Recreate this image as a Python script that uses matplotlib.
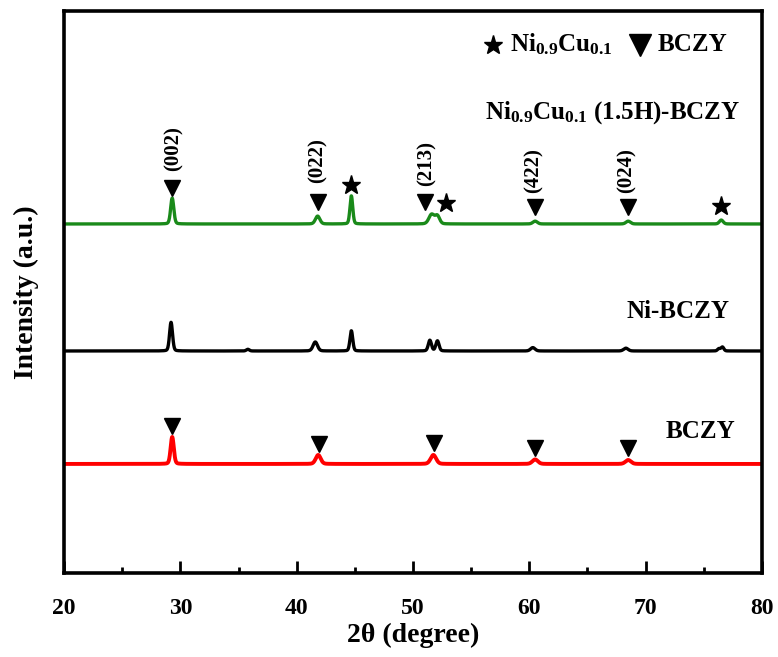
import numpy as np
import matplotlib
matplotlib.use("Agg")
import matplotlib.pyplot as plt

plt.rcParams['font.family'] = ['Liberation Serif', 'DejaVu Sans']
plt.rcParams['font.weight'] = 'bold'
plt.rcParams['mathtext.fontset'] = 'custom'
plt.rcParams['mathtext.rm'] = 'Liberation Serif:bold'
plt.rcParams['mathtext.bf'] = 'Liberation Serif:bold'
plt.rcParams['mathtext.it'] = 'Liberation Serif:bold:italic'

# ---- data ----
# baselines (arbitrary intensity units, offset stacking)
base_nicu = 62.1
base_ni = 39.5
base_bczy = 19.4

# peaks: position (2theta), height, FWHM
nicu_pos = [29.3, 41.8, 44.7, 51.6, 52.1, 60.5, 68.5, 76.5]
nicu_hgt = [4.6, 1.4, 5.0, 1.7, 1.4, 0.5, 0.5, 0.7]
nicu_wid = [0.32, 0.45, 0.28, 0.55, 0.45, 0.45, 0.45, 0.38]

ni_pos = [29.2, 35.8, 41.6, 44.7, 51.45, 52.1, 60.3, 68.3, 76.3, 76.6]
ni_hgt = [5.1, 0.3, 1.6, 3.6, 1.9, 1.8, 0.6, 0.5, 0.4, 0.7]
ni_wid = [0.30, 0.30, 0.45, 0.28, 0.32, 0.32, 0.45, 0.45, 0.28, 0.28]

bczy_pos = [29.3, 41.85, 51.75, 60.5, 68.5]
bczy_hgt = [4.8, 1.6, 1.6, 0.8, 0.7]
bczy_wid = [0.32, 0.50, 0.55, 0.55, 0.55]

# annotation markers
tri_nicu_x = [29.3, 41.8, 51.0, 60.5, 68.5]
tri_nicu_y = [68.5, 66.0, 66.0, 65.1, 65.1]
star_nicu_x = [44.7, 52.8, 76.5]
star_nicu_y = [69.0, 65.8, 65.3]
hkl_labels = ['(002)', '(022)', '(213)', '(422)', '(024)']
hkl_x = [29.4, 41.8, 51.2, 60.4, 68.4]
hkl_y = [75.6, 73.3, 72.8, 71.6, 71.6]

tri_bczy_x = [29.3, 41.9, 51.8, 60.5, 68.5]
tri_bczy_y = [26.2, 23.0, 23.1, 22.2, 22.2]

x_ticks = [20, 30, 40, 50, 60, 70, 80]


def pattern(x, base, pos, hgt, wid):
    y = np.full_like(x, base)
    for p, h, w in zip(pos, hgt, wid):
        s = w / 2.355
        g = np.exp(-0.5 * ((x - p) / s) ** 2)
        lor = 1.0 / (1.0 + ((x - p) / (w / 2)) ** 2)
        y = y + h * (0.8 * g + 0.2 * lor)
    return y


x = np.linspace(20, 80, 4000)

fig = plt.figure(figsize=(7.78, 6.57), dpi=100)
ax = fig.add_axes([0.0823, 0.1279, 0.8971, 0.8554])

ax.plot(x, pattern(x, base_nicu, nicu_pos, nicu_hgt, nicu_wid), color='#1a8a1a', lw=2.4)
ax.plot(x, pattern(x, base_ni, ni_pos, ni_hgt, ni_wid), color='black', lw=2.4)
ax.plot(x, pattern(x, base_bczy, bczy_pos, bczy_hgt, bczy_wid), color='#ff0000', lw=2.8)

ax.plot(tri_nicu_x, tri_nicu_y, 'v', color='black', ms=11, ls='none')
ax.plot(star_nicu_x, star_nicu_y, '*', color='black', ms=14, ls='none')
ax.plot(tri_bczy_x, tri_bczy_y, 'v', color='black', ms=11, ls='none')
for lab, hx, hy in zip(hkl_labels, hkl_x, hkl_y):
    ax.text(hx, hy, lab, rotation=90, ha='center', va='center', fontsize=15, fontweight='bold')

# legend-like header
ax.plot([56.9], [94.0], '*', color='black', ms=14, ls='none')
ax.text(58.3, 94.0, r'Ni$_{\mathrm{0.9}}$Cu$_{\mathrm{0.1}}$', ha='left', va='center', fontsize=18, fontweight='bold')
ax.plot([69.5], [94.0], 'v', color='black', ms=16, ls='none')
ax.text(71.0, 94.0, 'BCZY', ha='left', va='center', fontsize=18, fontweight='bold')

ax.text(78.1, 82.0, r'Ni$_{\mathrm{0.9}}$Cu$_{\mathrm{0.1}}$ (1.5H)-BCZY', ha='right', va='center', fontsize=18, fontweight='bold')
ax.text(77.2, 46.6, 'Ni-BCZY', ha='right', va='center', fontsize=18, fontweight='bold')
ax.text(77.7, 25.1, 'BCZY', ha='right', va='center', fontsize=18, fontweight='bold')

ax.set_xlim(20, 80)
ax.set_ylim(0, 100)
ax.set_xticks(x_ticks)
ax.set_xticks(np.arange(25, 80, 10), minor=True)
ax.set_yticks([])
ax.tick_params(axis='x', which='major', direction='in', length=9, width=2, labelsize=17, pad=18)
ax.tick_params(axis='x', which='minor', direction='in', length=4.5, width=2)
for lbl in ax.get_xticklabels():
    lbl.set_fontweight('bold')
for sp in ax.spines.values():
    sp.set_linewidth(2.6)

ax.set_xlabel('2θ (degree)', fontsize=20, fontweight='bold', labelpad=3)
ax.set_ylabel('Intensity (a.u.)', fontsize=20, fontweight='bold', labelpad=18)

fig.savefig('out.png', dpi=100)
